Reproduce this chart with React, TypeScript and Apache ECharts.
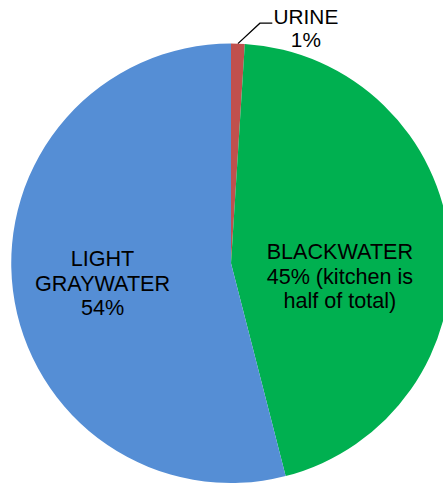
import React, { useEffect, useRef } from "react";
import * as echarts from "echarts";

// Shares of household wastewater, in percent
const categories = ["URINE", "BLACKWATER", "LIGHT GRAYWATER"];
const shares = [1, 45, 54];
const notes = ["", "(kitchen is\nhalf of total)", ""];
const sliceColors = ["#C0504D", "#00B050", "#558ED5"];

const FONT = "'Liberation Sans', Arial, Helvetica, sans-serif";

// Nudges for the labels drawn inside the larger slices
const insideShift: Record<number, [number, number]> = {
  1: [-3.5, 23.5],
  2: [-16.5, 6],
};

function labelText(name: string, value: number, note: string): string {
  const head = name.split(" ").join("\n");
  return `${head}\n${value}%${note ? " " + note : ""}`;
}

export default function App() {
  const ref = useRef<HTMLDivElement>(null);

  useEffect(() => {
    if (!ref.current) return;
    const chart = echarts.init(ref.current, undefined, { renderer: "svg" });

    const data = categories.map((name, i) => {
      const outside = i === 0;
      return {
        name,
        value: shares[i],
        itemStyle: { color: sliceColors[i] },
        label: outside
          ? {
              position: "outside" as const,
              fontSize: 20.8,
              lineHeight: 22.5,
            }
          : { position: "inside" as const },
        labelLine: outside
          ? { show: true, lineStyle: { color: "#000", width: 1.3 } }
          : { show: false },
      };
    });

    chart.setOption({
      animation: false,
      backgroundColor: "#ffffff",
      series: [
        {
          type: "pie",
          center: [231, 263.25],
          radius: 219.75,
          startAngle: 90,
          clockwise: true,
          avoidLabelOverlap: false,
          itemStyle: { borderWidth: 0 },
          emphasis: { disabled: true },
          label: {
            show: true,
            color: "#000",
            fontFamily: FONT,
            fontSize: 21.6,
            lineHeight: 24.5,
            align: "center",
            formatter: (p: any) =>
              labelText(p.name, p.value, notes[p.dataIndex]),
          },
          labelLayout: (params: any) => {
            if (params.dataIndex === 0) {
              const pts = params.labelLinePoints;
              if (!pts) return {};
              const s = pts[0];
              return {
                x: s[0] + 68,
                y: s[1] - 15.5,
                align: "center",
                verticalAlign: "middle",
                labelLinePoints: [
                  [s[0], s[1]],
                  [s[0] + 22, s[1] - 20.4],
                  [s[0] + 34.4, s[1] - 20.4],
                ],
              };
            }
            const d = insideShift[params.dataIndex] || [0, 0];
            return { dx: d[0], dy: d[1] };
          },
          data,
        },
      ],
    });

    return () => chart.dispose();
  }, []);

  return (
    <div
      ref={ref}
      style={{
        position: "fixed",
        left: 0,
        top: 0,
        width: 443,
        height: 483,
        background: "#fff",
      }}
    />
  );
}
